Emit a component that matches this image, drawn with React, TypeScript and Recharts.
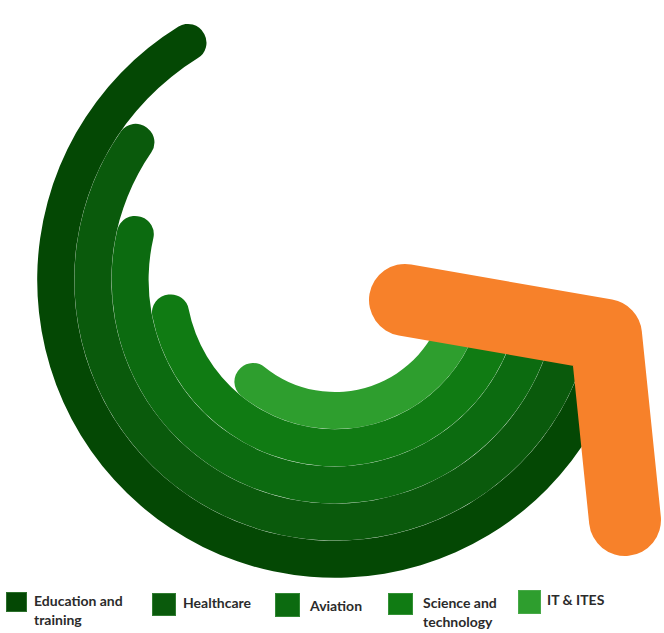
import {
  RadialBarChart,
  RadialBar,
  PolarAngleAxis,
  Cell,
  LineChart,
  Line,
  XAxis,
  YAxis,
} from 'recharts';

// inner ring first
const sectors = [
  'IT & ITES',
  'Science and technology',
  'Aviation',
  'Healthcare',
  'Education and training',
];
const sweep = [132, 170, 193, 214, 237];
const greens = ['#2E9E2E', '#107B13', '#0C6B10', '#0A5A0C', '#044804'];

// orange growth arrow, in page units
const arrowX = [405, 606, 625];
const arrowY = [300, 335, 520];

// legend runs outer ring -> inner ring
const legendOrder = [4, 3, 2, 1, 0];

const ringData = sectors.map((name, i) => ({ name, value: sweep[i] }));
const arrowData = arrowX.map((x, i) => ({ x, y: arrowY[i] }));

// swatch left, swatch top, swatch w, swatch h, text left, text top, text width
const legendBoxes = [
  [6, 592, 21, 20, 34, 591, 104],
  [152, 593, 24, 23, 183, 593, 95],
  [275, 593, 25, 24, 310, 596, 85],
  [388, 593, 25, 22, 423, 593, 90],
  [518, 590, 23, 24, 547, 590, 95],
];

function SectorLegend() {
  return (
    <>
      {legendOrder.map((idx, k) => {
        const [sx, sy, sw, sh, tx, ty, tw] = legendBoxes[k];
        return (
          <div key={sectors[idx]}>
            <div
              style={{
                position: 'absolute',
                left: sx,
                top: sy,
                width: sw,
                height: sh,
                background: greens[idx],
                boxShadow: 'inset 0 0 0 1px rgba(120,190,120,0.35)',
              }}
            />
            <div
              style={{
                position: 'absolute',
                left: tx,
                top: ty,
                width: tw,
                fontFamily: 'Lato, sans-serif',
                fontWeight: 700,
                fontSize: 14,
                lineHeight: '19px',
                color: '#2b2b2b',
              }}
            >
              {sectors[idx]}
            </div>
          </div>
        );
      })}
    </>
  );
}

export default function App() {
  return (
    <div
      style={{
        position: 'absolute',
        left: 0,
        top: 0,
        width: 664,
        height: 633,
        background: '#fff',
      }}
    >
      <div style={{ position: 'absolute', left: 0, top: 0 }}>
        <RadialBarChart
          width={664}
          height={633}
          margin={{ top: 0, right: 0, bottom: 0, left: 0 }}
          data={ringData}
          cx={335}
          cy={280}
          innerRadius={112}
          outerRadius={298}
          startAngle={-5}
          endAngle={-365}
          barCategoryGap={0}
        >
          <PolarAngleAxis type="number" domain={[0, 360]} tick={false} axisLine={false} />
          <RadialBar dataKey="value" cornerRadius={18} isAnimationActive={false}>
            {ringData.map((d, i) => (
              <Cell key={d.name} fill={greens[i]} />
            ))}
          </RadialBar>
        </RadialBarChart>
      </div>
      <div style={{ position: 'absolute', left: 0, top: 0, pointerEvents: 'none' }}>
        <LineChart
          width={664}
          height={633}
          margin={{ top: 0, right: 0, bottom: 0, left: 0 }}
          data={arrowData}
        >
          <XAxis dataKey="x" type="number" domain={[0, 664]} hide />
          <YAxis type="number" domain={[0, 633]} reversed hide />
          <Line
            dataKey="y"
            type="linear"
            stroke="#F7812A"
            strokeWidth={72}
            strokeLinecap="round"
            strokeLinejoin="round"
            dot={false}
            activeDot={false}
            isAnimationActive={false}
          />
        </LineChart>
      </div>
      <SectorLegend />
    </div>
  );
}
